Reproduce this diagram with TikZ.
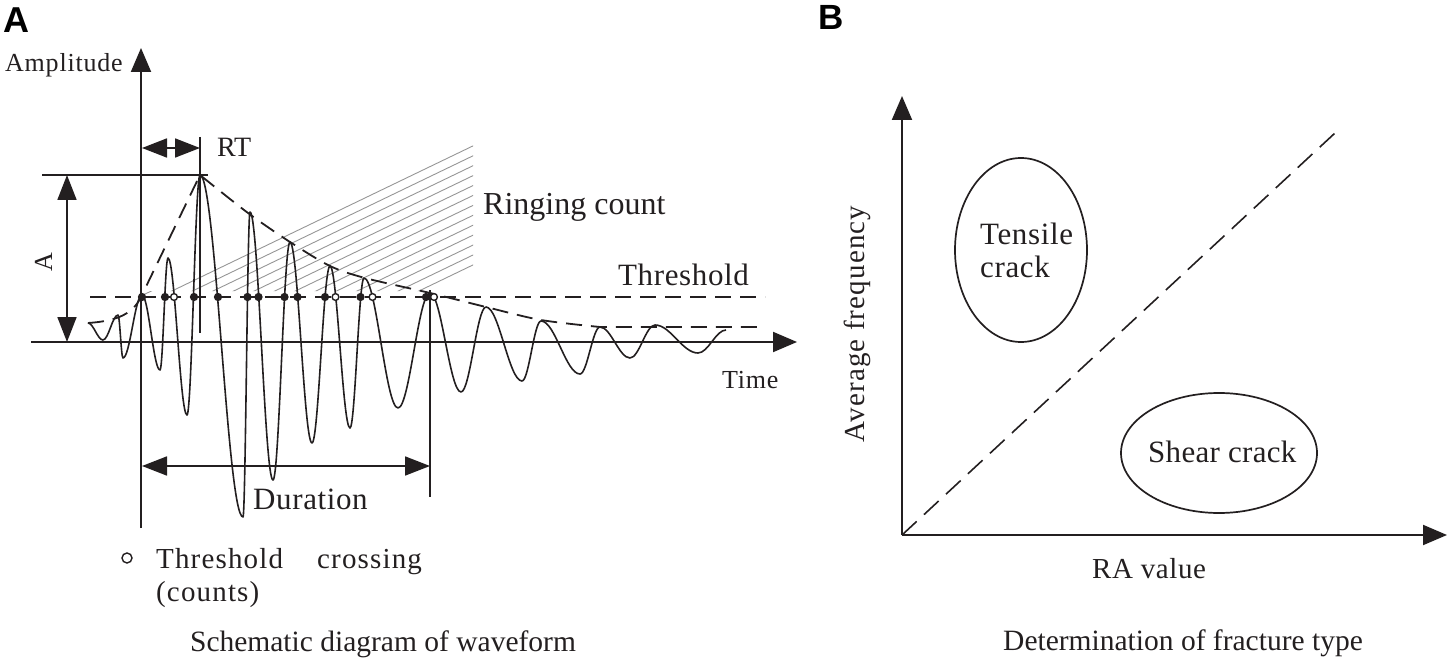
\documentclass[tikz,border=0pt]{standalone}
\usepackage{fontspec}
\setmainfont{Liberation Serif}
\newfontfamily\panelfont{Liberation Sans}
\usetikzlibrary{arrows.meta,shapes.geometric}
\definecolor{ink}{RGB}{35,31,32}
\definecolor{hatchgray}{RGB}{150,150,150}
\newcommand\myfs[3]{\fontsize{#1}{#2}\selectfont\addfontfeatures{LetterSpace=#3}}
\begin{document}
\begin{tikzpicture}[x=1pt,y=-1pt,
  axis/.style={line width=2pt, draw=ink, -{Triangle[length=24pt,width=20pt]}},
  dimarrow/.style={line width=1.8pt, draw=ink, {Triangle[length=25pt,width=19pt]}-{Triangle[length=25pt,width=19pt]}},
  thinline/.style={line width=1.6pt, draw=ink},
  wave/.style={line width=1.6pt, draw=ink, line join=round},
  dashline/.style={line width=1.8pt, draw=ink, dash pattern=on 16pt off 9pt},
  hatchline/.style={line width=0.9pt, draw=hatchgray},
  lbl/.style={text=ink, inner sep=0pt, anchor=base west},
  oval/.style={ellipse, draw=ink, line width=1.7pt, inner sep=0pt},
]
\useasboundingbox (0,0) rectangle (1450,660);

% ---------- Panel labels ----------
\node[inner sep=0pt, anchor=base west, font=\panelfont\bfseries\fontsize{36}{36}\selectfont] (labA) at (3,33) {A};
\node[inner sep=0pt, anchor=base west, font=\panelfont\bfseries\fontsize{35}{35}\selectfont] (labB) at (818,30) {B};

% ---------- Panel A ----------
% hatching (ringing count)
\begin{scope}
  \clip (141,297) -- (473,137) -- (473,291) -- (141,291) -- cycle;
  \foreach \k in {0,...,13}
    \draw[hatchline] (130,{301.3+9.92*\k}) -- (480,{132.6+9.92*\k});
\end{scope}

% axes
\coordinate (ybot) at (141,528);
\coordinate (ytop) at (141,48);
\coordinate (xleft) at (31,342);
\coordinate (xright) at (797,342);
\draw[axis] (ybot) -- (ytop);
\draw[axis] (xleft) -- (xright);

% threshold line
\coordinate (thL) at (90,297);
\coordinate (thR) at (765,297);
\draw[dashline] (thL) -- (thR);

% envelope
\draw[dashline] (88,323) .. controls (118,321) and (133,313.5) .. (141,297) -- (200,175)
  -- plot[smooth, tension=0.5] coordinates {(200,175) (248,213) (290,242) (330,266) (365,278) (430,293) (486,307) (541,320) (600,327)} -- (763,327);

% waveform
\draw[wave] (88,323)
  \foreach \xa/\ya/\xb/\yb in {88/323/103/340, 103/340/118/315, 118/315/123/358, 123/358/142/295,
    142/295/160/370, 160/370/168/258, 168/258/187/415, 187/415/200/175, 200/175/243/517,
    243/517/250/212, 250/212/273/480, 273/480/290/242, 290/242/312/443, 312/443/330/266,
    330/266/350/428, 350/428/364/278, 364/278/398/408, 398/408/430/293, 430/293/461/392,
    461/392/486/307, 486/307/522/381, 522/381/541/321, 541/321/580/374, 580/374/600/327,
    600/327/630/358, 630/358/655/325, 655/325/698/353, 698/353/726/330}
  { .. controls ({\xa+0.364*(\xb-\xa)},\ya) and ({\xb-0.364*(\xb-\xa)},\yb) .. (\xb,\yb) };

% threshold crossings
\foreach \x in {142,165,194,218,247.5,258.5,284.5,297.5,325,360.5,426}
  \filldraw[fill=ink, draw=ink, line width=1pt] (\x,297) circle (3.6pt);
\foreach \x in {174,335.5,372.5,434}
  \filldraw[fill=white, draw=ink, line width=1.4pt] (\x,297) circle (3.4pt);

% amplitude dimension
\coordinate (peakL) at (42,175);
\coordinate (peakR) at (208,175);
\draw[thinline] (peakL) -- (peakR);
\coordinate (aTop) at (67,175);
\coordinate (aBot) at (67,342);
\draw[dimarrow] (aTop) -- (aBot);

% rise time
\coordinate (rtTop) at (200,137);
\coordinate (rtBot) at (200,333);
\draw[thinline] (rtTop) -- (rtBot);
\coordinate (rtL) at (142,148);
\coordinate (rtR) at (200,148);
\draw[dimarrow] (rtL) -- (rtR);

% duration
\coordinate (duTop) at (430,290);
\coordinate (duBot) at (430,497);
\draw[thinline] (duTop) -- (duBot);
\coordinate (duL) at (142,466);
\coordinate (duR) at (430,466);
\draw[dimarrow] (duL) -- (duR);

% labels A
\node[lbl, font=\myfs{26}{28}{3}] (amp) at (5,72) {Amplitude};
\node[lbl, font=\myfs{28}{30}{0}] (rt) at (217,157) {RT};
\node[text=ink, inner sep=0pt, anchor=base, rotate=90, font=\myfs{26}{26}{0}] (alab) at (52,262) {A};
\node[lbl, font=\myfs{32}{34}{0}] (ring) at (483,215) {Ringing count};
\node[lbl, font=\myfs{31}{32}{2}] (thr) at (618,285) {Threshold};
\node[lbl, font=\myfs{26}{28}{3}] (time) at (722,388) {Time};
\node[lbl, font=\myfs{31}{32}{2}] (dur) at (253,509) {Duration};
\node[draw=ink, circle, line width=1.4pt, minimum size=10pt, inner sep=0pt] (legc) at (127,558) {};
\node[lbl, font=\myfs{29}{30}{4}] (leg1) at (156,568) {\makebox[161pt][l]{Threshold}crossing};
\node[lbl, font=\myfs{29}{30}{4}] (leg2) at (156,601) {(counts)};
\node[text=ink, inner sep=0pt, anchor=base, font=\myfs{29.5}{32}{0}] (capA) at (383,651) {Schematic diagram of waveform};

% ---------- Panel B ----------
\coordinate (O) at (902,535);
\coordinate (Btop) at (902,96);
\coordinate (Bright) at (1447,535);
\coordinate (Bdiag) at (1335,133);
\draw[axis] (O) -- (Btop);
\draw[axis] (O) -- (Bright);
\draw[line width=1.6pt, draw=ink, dash pattern=on 20pt off 10pt] (O) -- (Bdiag);

\node[oval, minimum width=132pt, minimum height=184pt] (tens) at (1021,250) {};
\node[oval, minimum width=196pt, minimum height=120pt] (shear) at (1219,453) {};
\node[lbl, font=\myfs{31}{32}{2}] (tens1) at (980,245) {Tensile};
\node[lbl, font=\myfs{31}{32}{2}] (tens2) at (980,277) {crack};
\node[lbl, font=\myfs{31}{32}{1}] (sh) at (1148,462) {Shear crack};
\node[lbl, font=\myfs{29}{30}{2}] (ra) at (1092,578) {RA value};
\node[text=ink, inner sep=0pt, anchor=base, rotate=90, font=\myfs{29}{30}{4}] (avg) at (864,324) {Average frequency};
\node[lbl, font=\myfs{29.5}{32}{0}] (capB) at (1003,650) {Determination of fracture type};
\end{tikzpicture}
\end{document}
